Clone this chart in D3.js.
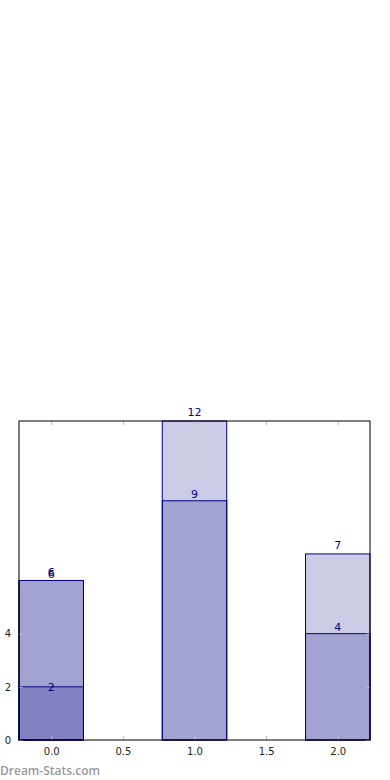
<!DOCTYPE html>
<html>
<head>
<meta charset="utf-8">
<script src="https://cdn.jsdelivr.net/npm/d3@7"></script>
<style>
  body { margin: 0; background: #fff; }
  svg { display: block; font-family: "DejaVu Sans", sans-serif; }
</style>
</head>
<body>
<div id="chart"></div>
<script>
// data
const positions = [0, 1, 2]
const seriesA = [2, 0, 0]
const seriesB = [6, 9, 4]
const seriesC = [6, 12, 7]
const xTicks = [0, 0.5, 1, 1.5, 2]
const yTicks = [0, 2, 4]

const size = { width: 390, height: 780 }
const plot = { left: 19, right: 370, top: 421, bottom: 740 }
const barWidth = 0.45

const svg = d3.select('#chart')
  .append('svg')
  .attr('width', size.width)
  .attr('height', size.height)

const xScale = d3.scaleLinear()
  .domain([-0.225, 2.225])
  .range([plot.left, plot.right])

const yScale = d3.scaleLinear()
  .domain([0, 12])
  .range([plot.bottom, plot.top])

// bars, drawn on top of each other with alpha
const layers = [
  { values: seriesA, dy: 4 },
  { values: seriesB, dy: -3 },
  { values: seriesC, dy: -5 }
]

layers.forEach(layer => {
  const data = positions.map((p, i) => ({ x: p, v: layer.values[i] }))
  svg.append('g')
    .selectAll('rect')
    .data(data)
    .enter()
    .append('rect')
    .attr('x', d => xScale(d.x - barWidth / 2))
    .attr('width', d => xScale(d.x + barWidth / 2) - xScale(d.x - barWidth / 2))
    .attr('y', d => yScale(d.v))
    .attr('height', d => yScale(0) - yScale(d.v))
    .attr('fill', 'navy')
    .attr('fill-opacity', 0.2)
    .attr('stroke', 'navy')
    .attr('stroke-width', 1)
})

// value labels
layers.forEach(layer => {
  const data = positions.map((p, i) => ({ x: p, v: layer.values[i] })).filter(d => d.v > 0)
  svg.append('g')
    .selectAll('text')
    .data(data)
    .enter()
    .append('text')
    .attr('x', d => xScale(d.x))
    .attr('y', d => yScale(d.v) + layer.dy)
    .attr('text-anchor', 'middle')
    .attr('font-size', 11)
    .attr('fill', 'navy')
    .text(d => d.v)
})

// axes: frame plus inward grey ticks
const xAxisBottom = d3.axisBottom(xScale).tickValues(xTicks).tickFormat(d3.format('.1f')).tickSizeInner(-4).tickSizeOuter(0).tickPadding(8)
const xAxisTop = d3.axisTop(xScale).tickValues(xTicks).tickFormat('').tickSizeInner(-4).tickSizeOuter(0)
const yAxisLeft = d3.axisLeft(yScale).tickValues(yTicks).tickFormat(d3.format('d')).tickSizeInner(-4).tickSizeOuter(0).tickPadding(8)
const yAxisRight = d3.axisRight(yScale).tickValues(yTicks).tickFormat('').tickSizeInner(-4).tickSizeOuter(0)

const axes = [
  svg.append('g').attr('transform', `translate(0,${plot.bottom})`).call(xAxisBottom),
  svg.append('g').attr('transform', `translate(0,${plot.top})`).call(xAxisTop),
  svg.append('g').attr('transform', `translate(${plot.left},0)`).call(yAxisLeft),
  svg.append('g').attr('transform', `translate(${plot.right},0)`).call(yAxisRight)
]
axes.forEach(g => {
  g.select('.domain').remove()
  g.selectAll('.tick line').attr('stroke', '#bbb')
  g.selectAll('.tick text').attr('font-size', 10).attr('fill', '#222').attr('font-family', '"DejaVu Sans", sans-serif')
})

svg.append('rect')
  .attr('x', plot.left)
  .attr('y', plot.top)
  .attr('width', plot.right - plot.left)
  .attr('height', plot.bottom - plot.top)
  .attr('fill', 'none')
  .attr('stroke', '#000')
  .attr('stroke-width', 1)

// watermark
svg.append('text')
  .attr('x', 0)
  .attr('y', 775)
  .attr('font-size', 12)
  .attr('font-weight', 600)
  .attr('font-family', '"Open Sans", sans-serif')
  .attr('fill', '#999')
  .text('Dream-Stats.com')
</script>
</body>
</html>
